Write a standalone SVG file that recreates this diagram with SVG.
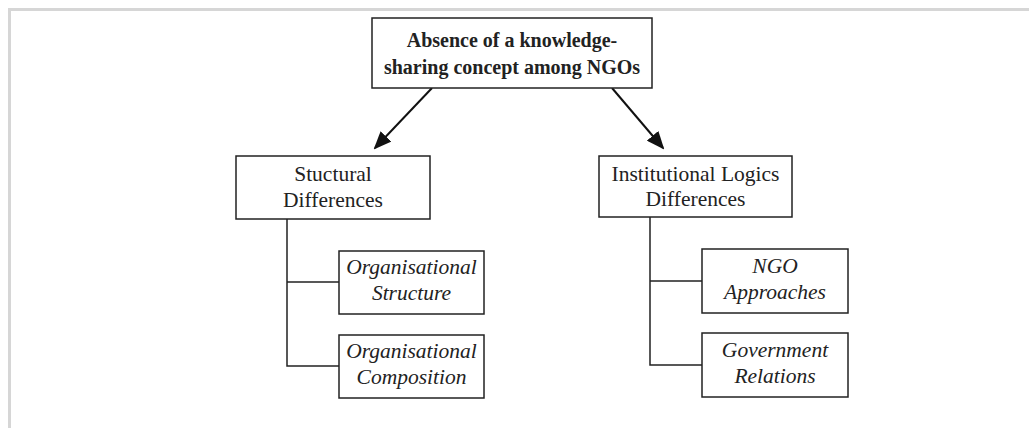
<svg xmlns="http://www.w3.org/2000/svg" width="1029" height="428" viewBox="0 0 1029 428">
<style>
.box{fill:#fff;stroke:#222;stroke-width:1.5}
.t{font-family:"Liberation Serif","Times New Roman",serif;font-size:21.5px;fill:#222;text-anchor:middle}
.b{font-weight:bold;font-size:20px}
.i{font-style:italic}
.ln{fill:none;stroke:#222;stroke-width:1.5}
.ar{fill:none;stroke:#111;stroke-width:2}
</style>
<defs>
<marker id="ah" markerWidth="18" markerHeight="15" refX="16" refY="7.5" orient="auto" markerUnits="userSpaceOnUse">
<path d="M0,0 L18,7.5 L0,15 Z" fill="#111"/>
</marker>
</defs>
<rect width="1029" height="428" fill="#fff"/>
<path d="M9.5,428 V9.5 H1029" fill="none" stroke="#d6d6d6" stroke-width="3"/>
<g id="connectors">
<line class="ar" x1="432" y1="88" x2="375" y2="148" marker-end="url(#ah)"/>
<line class="ar" x1="612" y1="88" x2="663" y2="148" marker-end="url(#ah)"/>
<path class="ln" d="M287,219 V366 H339 M287,282 H339"/>
<path class="ln" d="M650,217 V365 H702 M650,281 H702"/>
</g>
<g id="top">
<rect class="box" x="372" y="18" width="280" height="70"/>
<text class="t b" x="512" y="47">Absence of a knowledge-</text>
<text class="t b" x="512" y="74">sharing concept among NGOs</text>
</g>
<g id="structural">
<rect class="box" x="236" y="156" width="194" height="63"/>
<text class="t" x="333" y="181">Stuctural</text>
<text class="t" x="333" y="207">Differences</text>
</g>
<g id="institutional">
<rect class="box" x="599" y="156" width="193" height="61"/>
<text class="t" x="695.5" y="181">Institutional Logics</text>
<text class="t" x="695.5" y="206">Differences</text>
</g>
<g id="org-structure">
<rect class="box" x="339" y="251" width="145" height="63"/>
<text class="t i" x="411.5" y="274">Organisational</text>
<text class="t i" x="411.5" y="300">Structure</text>
</g>
<g id="org-composition">
<rect class="box" x="339" y="335" width="145" height="63"/>
<text class="t i" x="411.5" y="358">Organisational</text>
<text class="t i" x="411.5" y="384">Composition</text>
</g>
<g id="ngo-approaches">
<rect class="box" x="702" y="249" width="146" height="64"/>
<text class="t i" x="775" y="273">NGO</text>
<text class="t i" x="775" y="299">Approaches</text>
</g>
<g id="gov-relations">
<rect class="box" x="702" y="333" width="146" height="64"/>
<text class="t i" x="775" y="357">Government</text>
<text class="t i" x="775" y="383">Relations</text>
</g>
</svg>
